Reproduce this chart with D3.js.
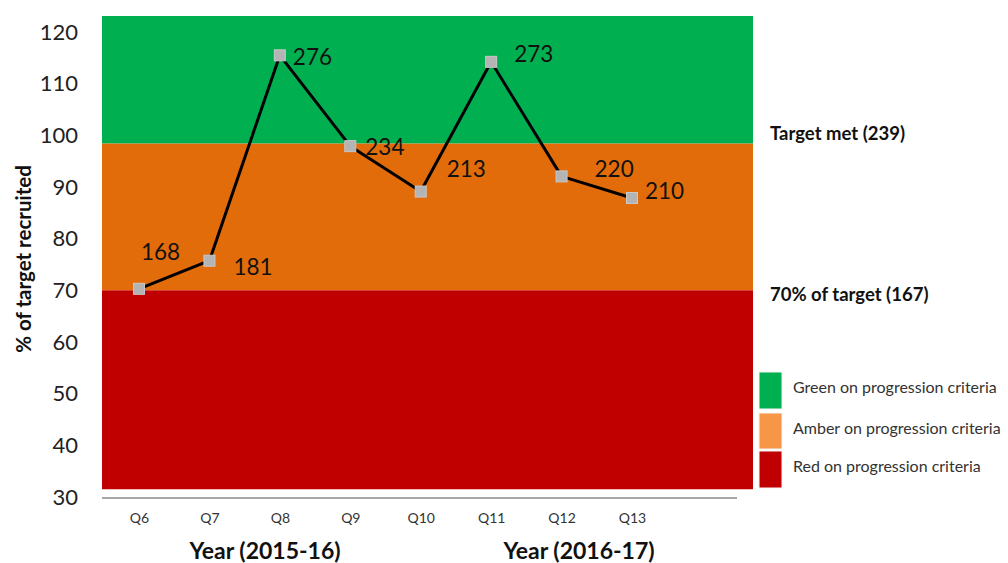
<!DOCTYPE html>
<html>
<head>
<meta charset="utf-8">
<script src="https://cdn.jsdelivr.net/npm/d3@7"></script>
<style>
  body { margin: 0; background: #fff; }
  svg { display: block; }
  text { font-family: Lato, "Open Sans", "Liberation Sans", sans-serif; }
</style>
</head>
<body>
<svg id="chart" width="1008" height="563"></svg>
<script>
// Recruitment per quarter against a quarterly target
const quarters = ["Q6", "Q7", "Q8", "Q9", "Q10", "Q11", "Q12", "Q13"];
const recruited = [168, 181, 276, 234, 213, 273, 220, 210];
const quarterlyTarget = 239;
const yTicks = [30, 40, 50, 60, 70, 80, 90, 100, 110, 120];

// RAG background bands (% of target): upper and lower edges
const bandUpper = [123.1, 98.4, 70];
const bandLower = [98.4, 70, 31.5];

const thresholdValues = [100, 70];
const thresholdLabels = ["Target met (239)", "70% of target (167)"];

const legendLabels = ["Green on progression criteria", "Amber on progression criteria", "Red on progression criteria"];
const yearLabels = ["Year (2015-16)", "Year (2016-17)"];

const pct = recruited.map(v => v / quarterlyTarget * 100);

const svg = d3.select("#chart");
const plotLeft = 102, plotRight = 753;

const y = d3.scaleLinear().domain([30, 120]).range([497, 32]);
const x = d3.scalePoint().domain(quarters).range([139, 632]);

const bandFill = ["#00b050", "#e36c0a", "#c00000"];
const legendFill = ["#00b050", "#f79646", "#c00000"];

// background bands
svg.append("g").selectAll("rect").data(bandUpper).join("rect")
  .attr("x", plotLeft)
  .attr("width", plotRight - plotLeft)
  .attr("y", d => y(d))
  .attr("height", (d, i) => y(bandLower[i]) - y(d))
  .attr("fill", (d, i) => bandFill[i]);

// y axis (labels only)
const yAxis = svg.append("g").attr("transform", "translate(78,0)")
  .call(d3.axisLeft(y).tickValues(yTicks).tickSize(0).tickPadding(0));
yAxis.select(".domain").remove();
yAxis.selectAll("text")
  .attr("font-size", 22)
  .attr("fill", "#222")
  .style("font-family", "Lato, 'Open Sans', sans-serif");

// x axis baseline and quarter labels
svg.append("line")
  .attr("x1", plotLeft).attr("x2", 737)
  .attr("y1", 498).attr("y2", 498)
  .attr("stroke", "#a6a6a6").attr("stroke-width", 2);

const xAxis = svg.append("g").attr("transform", "translate(0,513)")
  .call(d3.axisBottom(x).tickSize(0).tickPadding(0));
xAxis.select(".domain").remove();
xAxis.selectAll("text")
  .attr("font-size", 14)
  .attr("fill", "#333")
  .style("font-family", "Lato, 'Open Sans', sans-serif");

// year group labels
svg.append("g").selectAll("text").data(yearLabels).join("text")
  .attr("x", (d, i) => [265, 579][i])
  .attr("y", 559)
  .attr("text-anchor", "middle")
  .attr("font-size", 23)
  .attr("font-weight", "bold")
  .attr("fill", "#111")
  .text(d => d);

// y axis title
svg.append("text")
  .attr("transform", "translate(31,259) rotate(-90)")
  .attr("text-anchor", "middle")
  .attr("font-size", 20.5)
  .attr("font-weight", "bold")
  .attr("fill", "#111")
  .text("% of target recruited");

// line
const line = d3.line().x((d, i) => x(quarters[i])).y(d => y(d));
svg.append("path")
  .datum(pct)
  .attr("d", line)
  .attr("fill", "none")
  .attr("stroke", "#000")
  .attr("stroke-width", 3)
  .attr("stroke-linejoin", "round");

// markers
const ms = 11;
svg.append("g").selectAll("rect").data(pct).join("rect")
  .attr("x", (d, i) => x(quarters[i]) - ms / 2)
  .attr("y", d => y(d) - ms / 2)
  .attr("width", ms).attr("height", ms)
  .attr("fill", "#b4b4b4")
  .attr("stroke", "#c8c8c8")
  .attr("stroke-width", 1);

// value labels, offset from each marker
const labelDx = [2, 24, 13, 15, 26, 23, 33, 13];
const labelDy = [-37, 6, 1, 0, -23, -8, -8, -8];
svg.append("g").selectAll("text").data(recruited).join("text")
  .attr("x", (d, i) => x(quarters[i]) + labelDx[i])
  .attr("y", (d, i) => y(pct[i]) + labelDy[i])
  .attr("dominant-baseline", "central")
  .attr("font-size", 22.5)
  .attr("fill", "#111")
  .text(d => d);

// threshold annotations on the right
svg.append("g").selectAll("text").data(thresholdValues).join("text")
  .attr("x", 770)
  .attr("y", (d, i) => y(d) + [-2, 4][i])
  .attr("dominant-baseline", "central")
  .attr("font-size", 18.5)
  .attr("font-weight", "bold")
  .attr("fill", "#111")
  .text((d, i) => thresholdLabels[i]);

// legend
const legendTop = [372, 413, 451];
const legendH = [37, 36, 37];
const lg = svg.append("g");
lg.selectAll("rect").data(legendLabels).join("rect")
  .attr("x", 759).attr("width", 23)
  .attr("y", (d, i) => legendTop[i])
  .attr("height", (d, i) => legendH[i])
  .attr("fill", (d, i) => legendFill[i])
  .attr("stroke", "#f4f4f4").attr("stroke-width", 1);
lg.selectAll("text").data(legendLabels).join("text")
  .attr("x", 793)
  .attr("y", (d, i) => legendTop[i] + legendH[i] / 2 - 4)
  .attr("dominant-baseline", "central")
  .attr("font-size", 16)
  .attr("fill", "#333")
  .text(d => d);
</script>
</body>
</html>
